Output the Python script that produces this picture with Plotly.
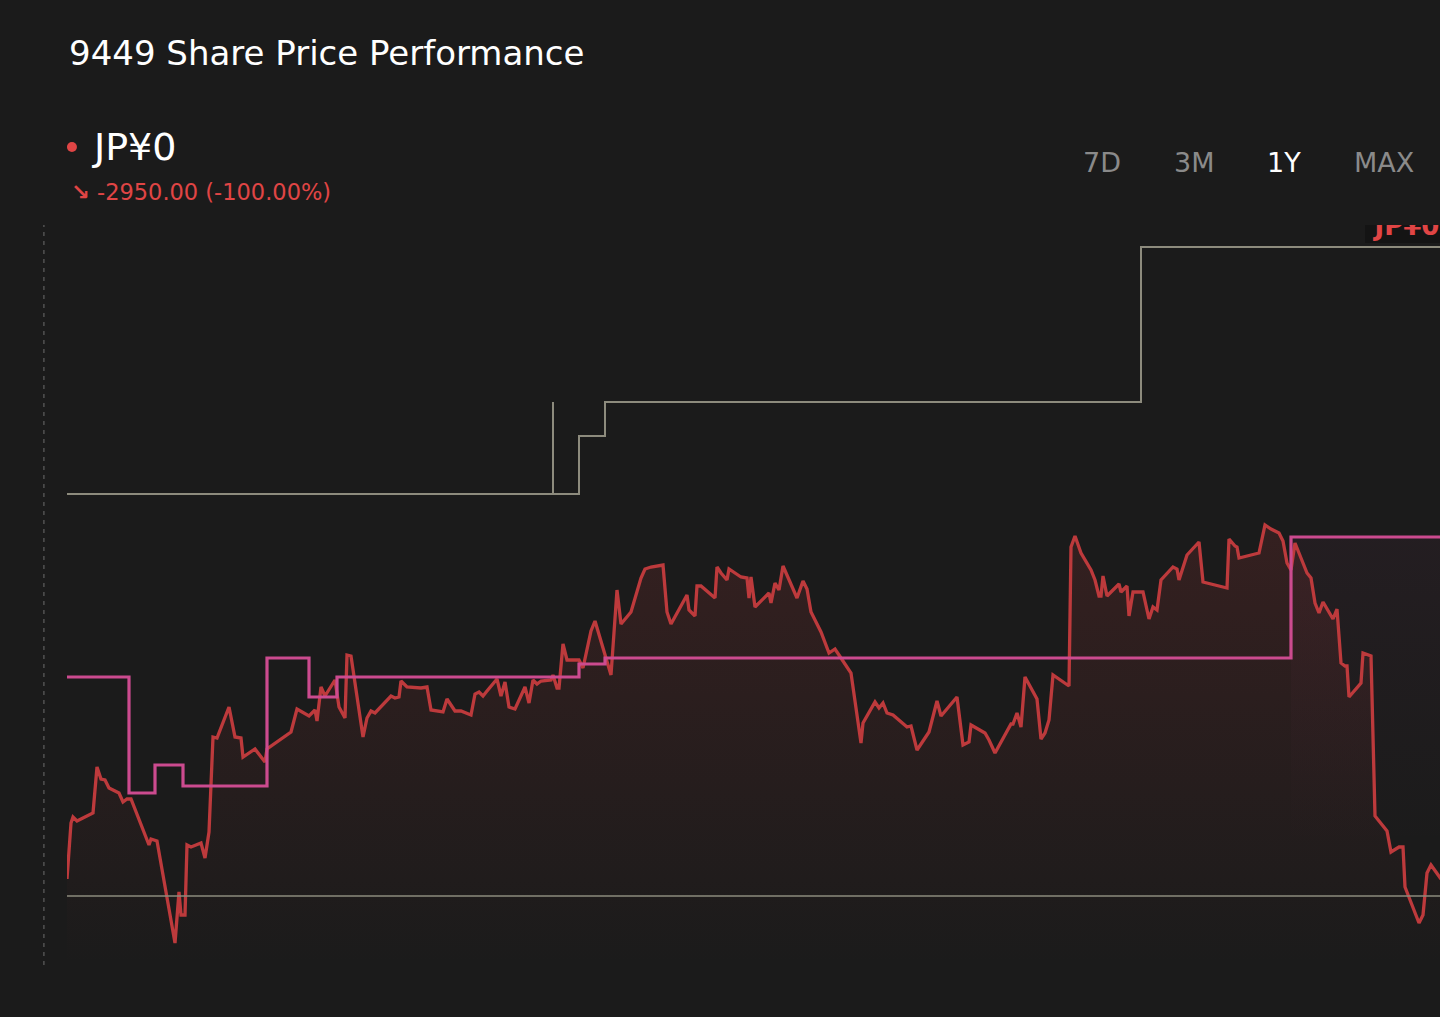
import plotly.graph_objects as go

# 9449 share price, 1 year (sample index / JP yen)
price_t = [0, 2, 3, 5, 13, 15, 17, 19, 21, 26, 28, 30, 32, 41, 42, 45, 54, 56, 57, 59,
           60, 62, 67, 69, 71, 73, 75, 81, 84, 87, 88, 94, 99, 100, 112, 115, 121, 124, 125, 127,
           129, 134, 136, 139, 140, 142, 148, 150, 152, 154, 162, 164, 166, 167, 170, 177, 180, 182, 188, 190,
           194, 197, 202, 204, 206, 208, 210, 215, 217, 219, 221, 224, 229, 231, 233, 235, 237, 242, 243, 245,
           246, 248, 250, 256, 258, 262, 264, 270, 272, 275, 277, 282, 287, 289, 292, 298, 300, 302, 310, 311,
           314, 315, 317, 324, 325, 327, 330, 331, 337, 340, 341, 342, 344, 351, 352, 354, 356, 358, 365, 368,
           370, 372, 377, 381, 384, 386, 392, 397, 398, 404, 406, 408, 410, 413, 420, 422, 425, 431, 435, 437,
           445, 448, 451, 452, 459, 461, 464, 472, 473, 475, 477, 479, 485, 487, 489, 491, 493, 501, 502, 504,
           507, 512, 514, 516, 517, 518, 520, 526, 527, 530, 531, 533, 538, 541, 543, 545, 547, 553, 555, 556,
           560, 566, 568, 580, 581, 584, 585, 586, 596, 599, 602, 606, 608, 610, 612, 614, 620, 622, 624, 626,
           628, 633, 635, 637, 639, 640, 641, 647, 648, 652, 654, 660, 662, 666, 668, 669, 676, 678, 680, 682,
           687]
price = [2942, 3054, 3066, 3058, 3074, 3166, 3142, 3140, 3124, 3114, 3096, 3102, 3102, 3010, 3022, 3018, 2814, 2916, 2870, 2870,
         3010, 3006, 3014, 2984, 3036, 3226, 3224, 3286, 3226, 3224, 3186, 3202, 3176, 3202, 3236, 3282, 3268, 3280, 3258, 3326,
         3308, 3340, 3286, 3264, 3390, 3388, 3226, 3264, 3278, 3274, 3308, 3304, 3306, 3338, 3326, 3324, 3326, 3280, 3276, 3302,
         3278, 3278, 3270, 3312, 3316, 3308, 3318, 3342, 3308, 3336, 3286, 3282, 3326, 3294, 3340, 3332, 3338, 3340, 3350, 3324,
         3324, 3412, 3380, 3380, 3364, 3438, 3458, 3380, 3350, 3520, 3452, 3476, 3544, 3562, 3566, 3570, 3476, 3452, 3510, 3480,
         3468, 3528, 3528, 3504, 3566, 3554, 3540, 3562, 3546, 3544, 3504, 3546, 3486, 3514, 3494, 3534, 3520, 3568, 3504, 3538,
         3522, 3476, 3436, 3394, 3402, 3390, 3354, 3214, 3254, 3296, 3284, 3294, 3274, 3270, 3246, 3248, 3200, 3236, 3298, 3268,
         3306, 3210, 3216, 3250, 3234, 3220, 3194, 3252, 3252, 3274, 3246, 3346, 3302, 3222, 3234, 3260, 3350, 3328, 3606, 3628,
         3594, 3560, 3540, 3508, 3508, 3548, 3508, 3532, 3516, 3528, 3468, 3516, 3516, 3462, 3486, 3480, 3540, 3566, 3562, 3540,
         3590, 3616, 3536, 3524, 3622, 3608, 3606, 3584, 3594, 3650, 3642, 3634, 3618, 3574, 3560, 3614, 3554, 3544, 3494, 3474,
         3496, 3462, 3482, 3374, 3368, 3368, 3306, 3334, 3394, 3388, 3068, 3038, 2996, 3006, 3006, 2926, 2854, 2870, 2954, 2970,
         2942]

# step lines
grey_t = [0, 243, 243, 256, 269, 537, 687]
grey_v = [3712, 3896, 3712, 3828, 3896, 4206, 4206]
pink_t = [0, 31, 44, 58, 100, 121, 135, 256, 269, 612, 687]
pink_v = [3346, 3114, 3170, 3128, 3384, 3306, 3346, 3372, 3384, 3626, 3626]
base_level = 2908

buttons = ["7D", "3M", "1Y", "MAX"]
active_button = "1Y"

bg = "#1b1b1b"
red = "#bd3a3c"
pink = "#cc4b8f"
grey = "#8d8b7d"
font = "DejaVu Sans"

fig = go.Figure()

# faint band under the last pink step
fig.add_trace(go.Scatter(
    x=pink_t[-2:], y=pink_v[-2:], mode="lines", line=dict(width=0),
    fill="tozeroy",
    fillgradient=dict(type="vertical", start=3000, stop=3626,
                      colorscale=[[0, "rgba(200,80,150,0.0)"], [1, "rgba(200,80,150,0.05)"]]),
    hoverinfo="skip", showlegend=False))

fig.add_trace(go.Scatter(
    x=price_t, y=price, mode="lines",
    line=dict(color=red, width=3.3),
    fill="tozeroy",
    fillgradient=dict(type="vertical", start=2770, stop=3650,
                      colorscale=[[0, "rgba(200,60,60,0.0)"], [1, "rgba(200,60,60,0.15)"]]),
    hoverinfo="skip", showlegend=False))

fig.add_trace(go.Scatter(
    x=grey_t, y=grey_v, mode="lines", line=dict(color=grey, width=2, shape="hv"),
    hoverinfo="skip", showlegend=False))

fig.add_trace(go.Scatter(
    x=pink_t, y=pink_v, mode="lines", line=dict(color=pink, width=3.2, shape="hv"),
    hoverinfo="skip", showlegend=False))

fig.add_hline(y=base_level, line=dict(color=grey, width=1.5))

# clipped price tag at the top right
fig.add_shape(type="rect", x0=649, x1=690, y0=4214, y1=4260,
              fillcolor="#141414", line=dict(width=0), layer="below")
fig.add_trace(go.Scatter(
    x=[670], y=[4244], mode="text", text=["JP¥0"],
    textfont=dict(color="#e04545", size=26, family=font, weight="bold"),
    hoverinfo="skip", showlegend=False))

# dashed guide on the left
fig.add_shape(type="line", xref="paper", yref="paper", x0=-0.0168, x1=-0.0168, y0=0, y1=1,
              line=dict(color="#6e6e6e", width=1, dash="4px,5px"))

# red dot before the price
fig.add_shape(type="circle", xref="paper", yref="paper", xsizemode="pixel", ysizemode="pixel",
              xanchor=0.0036, yanchor=1.1054, x0=-5, x1=5, y0=-5, y1=5,
              fillcolor="#e04545", line=dict(width=0))

fig.add_annotation(text="9449 Share Price Performance", xref="paper", yref="paper",
                   x=0, y=1.2324, xanchor="left", yanchor="middle", showarrow=False,
                   font=dict(family=font, size=34, color="#ffffff"))
fig.add_annotation(text="JP¥0", xref="paper", yref="paper",
                   x=0.0167, y=1.1054, xanchor="left", yanchor="middle", showarrow=False,
                   font=dict(family=font, size=38, color="#ffffff"))
fig.add_annotation(text="<b>↘</b> -2950.00 (-100.00%)", xref="paper", yref="paper",
                   x=0.0015, y=1.0446, xanchor="left", yanchor="middle", showarrow=False,
                   font=dict(family=font, size=22.5, color="#e04545"))

button_x = [0.7538, 0.8208, 0.8864, 0.9592]
for label, bx in zip(buttons, button_x):
    fig.add_annotation(text=label, xref="paper", yref="paper",
                       x=bx, y=1.0851, xanchor="center", yanchor="middle", showarrow=False,
                       font=dict(family=font, size=27,
                                 color="#ffffff" if label == active_button else "#8a8a8a"))

fig.update_xaxes(visible=False, range=[0, 686.5], fixedrange=True)
fig.update_yaxes(visible=False, range=[2770, 4250], fixedrange=True)

fig.update_layout(
    width=1440, height=1017,
    margin=dict(l=67, r=0, t=225, b=52),
    paper_bgcolor=bg, plot_bgcolor=bg,
    showlegend=False,
)

fig.write_html("out.html", config={"displayModeBar": False},
               post_script="document.body.style.margin='0';document.body.style.background='#1b1b1b';")
